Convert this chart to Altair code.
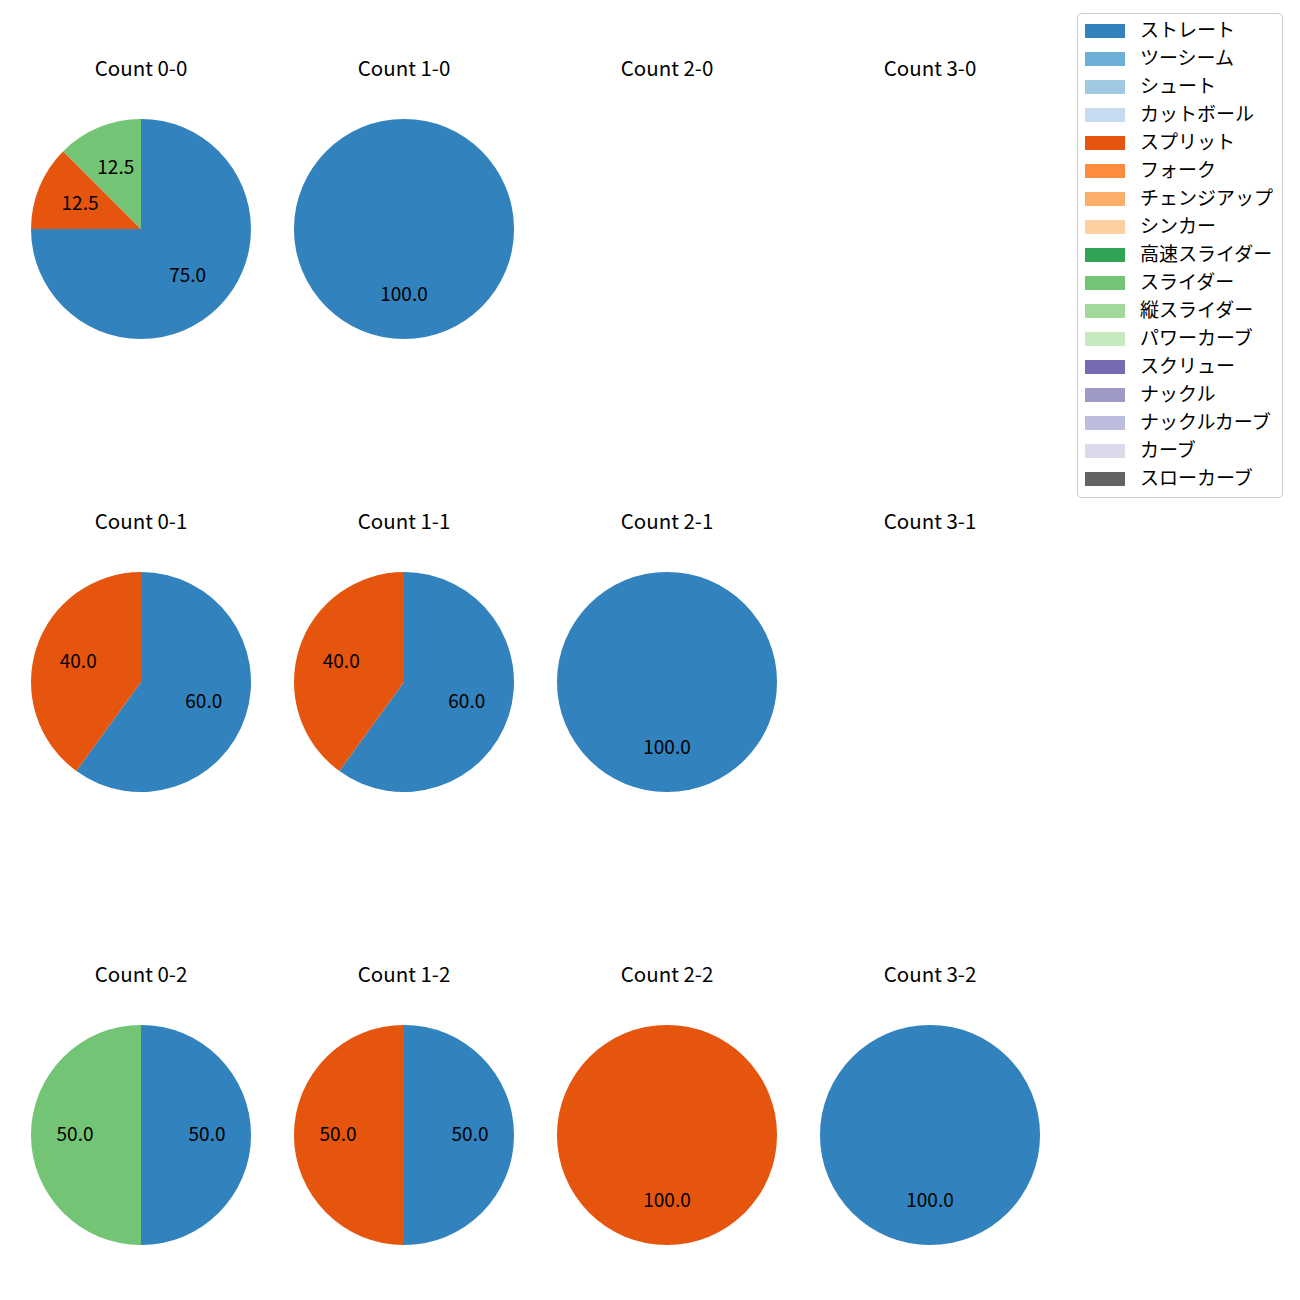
import altair as alt
import pandas as pd

FONT = "Noto Sans CJK JP"

pitch_types = ["ストレート", "ツーシーム", "シュート", "カットボール", "スプリット", "フォーク",
               "チェンジアップ", "シンカー", "高速スライダー", "スライダー", "縦スライダー",
               "パワーカーブ", "スクリュー", "ナックル", "ナックルカーブ", "カーブ", "スローカーブ"]
pitch_colors = ["#3182bd", "#6baed6", "#9ecae1", "#c6dbef", "#e6550d", "#fd8d3c",
                "#fdae6b", "#fdd0a2", "#31a354", "#74c476", "#a1d99b", "#c7e9c0",
                "#756bb1", "#9e9ac8", "#bcbddc", "#dadaeb", "#636363"]

count_grid = [["0-0", "1-0", "2-0", "3-0"],
              ["0-1", "1-1", "2-1", "3-1"],
              ["0-2", "1-2", "2-2", "3-2"]]

rec_count = ["0-0", "0-0", "0-0", "1-0", "0-1", "0-1", "1-1", "1-1", "2-1",
             "0-2", "0-2", "1-2", "1-2", "2-2", "3-2"]
rec_pitch = ["ストレート", "スプリット", "スライダー", "ストレート", "ストレート", "スプリット",
             "ストレート", "スプリット", "ストレート", "ストレート", "スライダー",
             "ストレート", "スプリット", "スプリット", "ストレート"]
rec_pct = [75.0, 12.5, 12.5, 100.0, 60.0, 40.0, 60.0, 40.0, 100.0,
           50.0, 50.0, 50.0, 50.0, 100.0, 100.0]

df = pd.DataFrame({"count": rec_count, "pitch": rec_pitch, "pct": rec_pct})
df["idx"] = df["pitch"].map({p: i for i, p in enumerate(pitch_types)})

legend = alt.Legend(
    title=None, orient="none", legendX=1046, legendY=0,
    symbolType="M-2,-0.7L2,-0.7L2,0.7L-2,0.7Z", symbolSize=400,
    symbolOffset=10,
    symbolStrokeWidth=0, labelFont=FONT, labelFontSize=19, labelOffset=25,
    strokeColor="#cccccc", cornerRadius=4, padding=8, rowPadding=8,
    labelLimit=300,
)
color_scale = alt.Scale(domain=pitch_types, range=pitch_colors)


def panel(c):
    base = alt.Chart(df).transform_filter(alt.datum["count"] == c).encode(
        theta=alt.Theta("pct:Q", stack=True),
        order=alt.Order("idx:Q"),
    )
    arc = base.mark_arc(outerRadius=110, stroke=None).encode(
        color=alt.Color("pitch:N", scale=color_scale, legend=legend)
    )
    txt = base.mark_text(radius=66, font=FONT, fontSize=19, color="black").encode(
        text=alt.Text("pct:Q", format=".1f"),
        detail="pitch:N",
    )
    return alt.layer(arc, txt).properties(
        width=220, height=220,
        title=alt.TitleParams(f"Count {c}", font=FONT, fontSize=20.5,
                              fontWeight="normal", offset=39, color="black"),
    )


spacer = alt.Chart(pd.DataFrame({"v": []})).mark_text().encode(
    text=alt.value("")
).properties(width=1, height=46)

rows = [alt.hconcat(*[panel(c) for c in row], spacing=43) for row in count_grid]
grid = alt.vconcat(*rows, spacing=173)
chart = alt.vconcat(spacer, grid, spacing=0).properties(
    padding={"left": 23, "top": 4, "right": 5, "bottom": 5}
).configure_view(stroke=None)

chart.save("out.html", embed_options={"renderer": "svg", "actions": False})
